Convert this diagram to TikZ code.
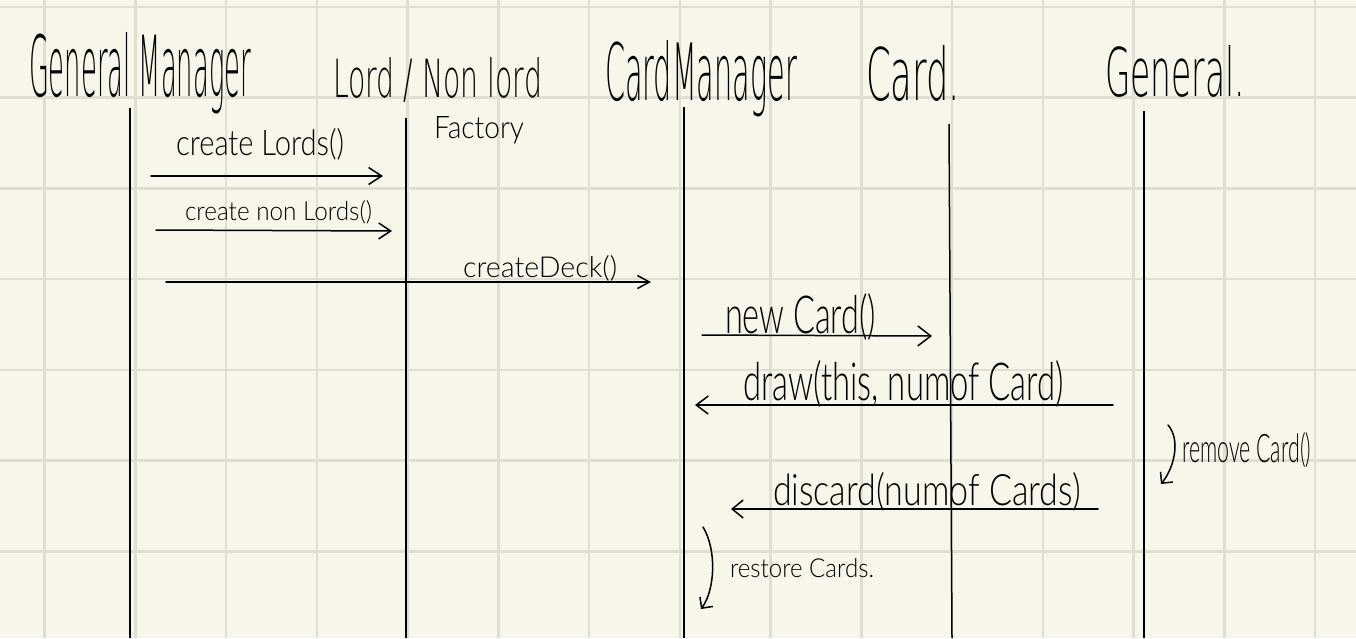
\documentclass[tikz,border=0pt]{standalone}
\usepackage{fontspec}
\IfFontExistsTF{Lato Light}{\setmainfont{Lato Light}}{%
  \IfFontExistsTF{Noto Sans Light}{\setmainfont{Noto Sans Light}}{\setmainfont{Lato}}}
\IfFontExistsTF{Noto Sans ExtraLight}{\newfontfamily\thinhand{Noto Sans ExtraLight}}{%
  \IfFontExistsTF{DejaVu Sans ExtraLight}{\newfontfamily\thinhand{DejaVu Sans ExtraLight}}{%
    \IfFontExistsTF{Lato Light}{\newfontfamily\thinhand{Lato Light}}{%
      \newfontfamily\thinhand{Lato}}}}
\usepackage{graphicx}
\usetikzlibrary{arrows.meta}
\definecolor{paper}{RGB}{247,246,234}
\definecolor{gridc}{RGB}{222,223,211}
\newcommand{\hw}[3]{\resizebox{#1pt}{#2pt}{#3}}
\newcommand{\hh}[3]{\resizebox{#1pt}{#2pt}{\thinhand #3}}
\begin{document}
\begin{tikzpicture}[x=1pt,y=-1pt,
  life/.style={line width=1.5pt, black},
  msg/.style={line width=1.5pt, line cap=round, line join=round},
  lbl/.style={anchor=base west, inner sep=0pt, outer sep=0pt, text=black}]
\fill[paper] (0,0) rectangle (1356,638);
\useasboundingbox (0,0) rectangle (1356,638);
% grid
\foreach \i in {0,...,14} \draw[gridc, line width=2.5pt] ({44.6+90.75*\i},0) -- ({44.6+90.75*\i},638);
\foreach \j in {0,...,6} \draw[gridc, line width=2.5pt] (0,{6.9+90.75*\j}) -- (1356,{6.9+90.75*\j});

% headers
\node[lbl] (hGM) at (29,96) {\hh{222}{64}{General Manager}};
\node[lbl] (hLF) at (333,97) {\hh{209}{40}{Lord / Non lord}};
\node[lbl] (hFa) at (434,138) {\hw{90}{22}{Factory}};
\node[lbl] (hCM) at (605,100) {\hh{192}{60}{CardManager}};
\node[lbl] (hCa) at (866,100) {\hh{94}{55}{Card.}};
\node[lbl] (hGe) at (1105,96) {\hh{140}{51}{General.}};

% lifelines
\coordinate (gmT) at (130,108); \coordinate (gmB) at (130,638);
\coordinate (lfT) at (406,118); \coordinate (lfB) at (406,638);
\coordinate (cmT) at (684,107); \coordinate (cmB) at (684,638);
\coordinate (caT) at (949,124); \coordinate (caB) at (952,638);
\coordinate (geT) at (1144,111); \coordinate (geB) at (1144,638);
\draw[life] (gmT) -- (gmB);
\draw[life] (lfT) -- (lfB);
\draw[life] (cmT) -- (cmB);
\draw[life] (caT) -- (caB);
\draw[life] (geT) -- (geB);

% messages
\node[lbl] (t1) at (176,155) {\hw{168}{27}{create Lords()}};
\coordinate (m1s) at (151,176); \coordinate (m1e) at (383,176);
\draw[msg, -{Straight Barb[length=13pt,width=17pt,line width=1.5pt]}] (m1s) -- (m1e);

\node[lbl] (t2) at (185,220) {\hw{187}{20}{create non Lords()}};
\coordinate (m2s) at (156,230); \coordinate (m2e) at (392,231);
\draw[msg, -{Straight Barb[length=12pt,width=16pt,line width=1.5pt]}] (m2s) -- (m2e);

\node[lbl] (t3) at (463,277) {\hw{154}{22}{createDeck()}};
\coordinate (m3s) at (166,282); \coordinate (m3e) at (651,282);
\draw[msg, -{Straight Barb[length=12pt,width=13pt,line width=1.5pt]}] (m3s) -- (m3e);

\node[lbl] (t4) at (725,333) {\hw{151}{40}{new Card()}};
\coordinate (m4s) at (702,335); \coordinate (m4e) at (932,336);
\draw[msg, -{Straight Barb[length=13pt,width=20pt,line width=1.5pt]}] (m4s) -- (m4e);

\node[lbl] (t5) at (743,400) {\hw{321}{40}{draw(this, numof Card)}};
\coordinate (m5s) at (1113,405); \coordinate (m5e) at (695,405);
\draw[msg, -{Straight Barb[length=12pt,width=18pt,line width=1.5pt]}] (m5s) -- (m5e);

\coordinate (r1s) at (1168,425); \coordinate (r1e) at (1161,484);
\draw[msg, -{Straight Barb[length=8pt,width=16pt,line width=1.5pt]}] (r1s) .. controls (1181,440) and (1174,468) .. (r1e);
\node[lbl] (t6) at (1182,462) {\hw{129}{30}{remove Card()}};

\node[lbl] (t7) at (773,505) {\hw{308}{33}{discard(numof Cards)}};
\coordinate (m7s) at (1098,509); \coordinate (m7e) at (731,509);
\draw[msg, -{Straight Barb[length=11pt,width=18pt,line width=1.5pt]}] (m7s) -- (m7e);

\coordinate (r2s) at (703,527); \coordinate (r2e) at (701,609);
\draw[msg, -{Straight Barb[length=8pt,width=16pt,line width=1.5pt]}] (r2s) .. controls (717,550) and (715,590) .. (r2e);
\node[lbl] (t8) at (730,577) {\hw{144}{19}{restore Cards.}};
\end{tikzpicture}
\end{document}
